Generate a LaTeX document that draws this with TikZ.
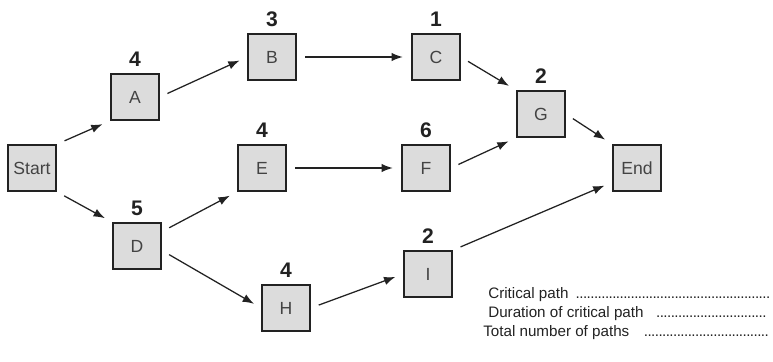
\documentclass[tikz,border=0pt]{standalone}
\usepackage{fontspec}
\setmainfont{Liberation Sans}
\usepackage{tikz}
\usetikzlibrary{arrows.meta}
\usetikzlibrary{positioning}

\definecolor{boxgray}{HTML}{DCDCDC}
\definecolor{ink}{HTML}{222222}

\tikzset{
  task/.style={draw=ink, fill=boxgray, line width=1.1pt, minimum width=1.2cm,
    minimum height=1.15cm, inner sep=2pt, font=\fontsize{12.5}{14}\selectfont, text=ink!85},
  dur/.style={inner sep=0pt, font=\fontsize{15}{16}\selectfont\bfseries, text=ink},
  arr/.style={-{Latex[length=8pt,width=6pt]}, line width=0.9pt, draw=ink,
    shorten <=6pt, shorten >=6pt},
  note/.style={anchor=base west, inner sep=0pt, font=\fontsize{10.8}{12}\selectfont, text=ink}
}
\newcommand{\dotline}{\leaders\hbox to 2.6pt{\hss.\hss}\hfill}

\begin{document}
\begin{tikzpicture}[x=0.025cm,y=-0.025cm]
\useasboundingbox (0,0) rectangle (773,361);

% the tasks
\node[task] (Start) at (32,168) {Start};
\node[task] (A) at (135,97) {A};
\node[task] (B) at (272,57) {B};
\node[task] (C) at (436,57) {C};
\node[task] (D) at (137,246) {D};
\node[task] (E) at (262,168) {E};
\node[task] (F) at (426,168) {F};
\node[task] (G) at (541,114) {G};
\node[task] (H) at (286,308) {H};
\node[task] (I) at (428,274) {I};
\node[task] (End) at (637,168) {End};

% durations
\node[dur, above=4.5pt of A] (dA) {4};
\node[dur, above=4.5pt of B] (dB) {3};
\node[dur, above=4.5pt of C] (dC) {1};
\node[dur, above=4.5pt of D] (dD) {5};
\node[dur, above=4.5pt of E] (dE) {4};
\node[dur, above=4.5pt of F] (dF) {6};
\node[dur, above=4.5pt of G] (dG) {2};
\node[dur, above=4.5pt of H] (dH) {4};
\node[dur, above=4.5pt of I] (dI) {2};

% links
\draw[arr] (Start.north east) -- (A.south west);
\draw[arr] (A.east) -- (B.west);
\draw[arr] (B.east) -- (C.west);
\draw[arr] (C.east) -- (G.north west);
\draw[arr] (Start.south east) -- (D.north west);
\draw[arr] (D.30) -- (E.south west);
\draw[arr] (E.east) -- (F.west);
\draw[arr] (F.east) -- (G.south west);
\draw[arr] (G.east) -- (End.north west);
\draw[arr] (D.-10) -- (H.west);
\draw[arr] (H.east) -- (I.west);
\draw[arr] (I.north east) -- (End.-150);

% questions
\node[note] (q1) at (488,298) {\makebox[7.08cm][l]{Critical path \dotline}};
\node[note] (q2) at (488,317) {\makebox[7.0cm][l]{Duration of critical path \hspace{0.5em}\dotline}};
\node[note] (q3) at (483,336) {\makebox[7.2cm][l]{Total number of paths \hspace{0.5em}\dotline}};
\end{tikzpicture}
\end{document}
